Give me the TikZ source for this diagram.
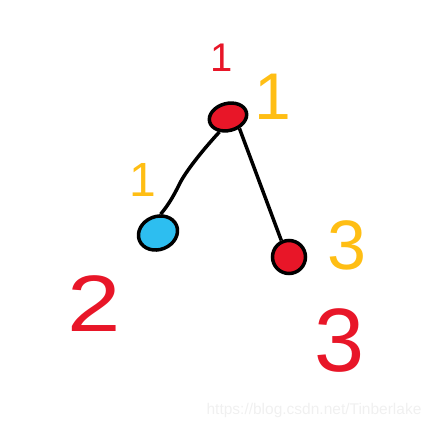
\documentclass[tikz,border=0pt]{standalone}
\usepackage{fontspec}
\setmainfont{Liberation Sans}
\usetikzlibrary{shapes.geometric}

\definecolor{penred}{RGB}{232,22,40}
\definecolor{penorange}{RGB}{255,190,20}
\definecolor{penblue}{RGB}{45,190,240}

\begin{document}
\begin{tikzpicture}[x=1pt,y=1pt,line width=3.5pt,
  vert/.style={ellipse,draw=black,line width=3.5pt,inner sep=0pt},
  digit/.style={anchor=base,inner sep=0pt},
  redd/.style={digit,text=penred},
  orad/.style={digit,text=penorange}]

\useasboundingbox (0,0) rectangle (434,428);

\node[vert,fill=penred,minimum width=38,minimum height=27,rotate=15] (v_1) at (228,311) {};
\node[vert,fill=penblue,minimum width=40,minimum height=33,rotate=22] (v_2) at (158,195) {};
\node[vert,fill=penred,minimum width=33,minimum height=33] (v_3) at (289,171) {};

% edges
\draw (v_1.-135) .. controls (200,275) and (185,255) .. (180,245)
  .. controls (175,235) and (170,225) .. (v_2.60);
\draw (v_1.-60) -- (v_3.115);

% labels
\node[redd,font=\fontsize{40}{40}\selectfont] (d_1) at (222,356) {1};
\node[orad,font=\fontsize{66}{66}\selectfont] (w_1) at (273,308) {1};
\node[orad,font=\fontsize{48}{48}\selectfont] (w_2) at (143,231) {1};
\node[orad,font=\fontsize{70}{70}\selectfont] (w_3) at (347,158) {3};
\node[redd,font=\fontsize{80}{80}\selectfont,xscale=1.2] (d_2) at (94,96) {2};
\node[redd,font=\fontsize{90}{90}\selectfont] (d_3) at (340,56) {3};

\node[text=black!6,font=\fontsize{15.5}{15.5}\selectfont] (mark) at (314,18) {https://blog.csdn.net/Tinberlake};

\end{tikzpicture}
\end{document}
